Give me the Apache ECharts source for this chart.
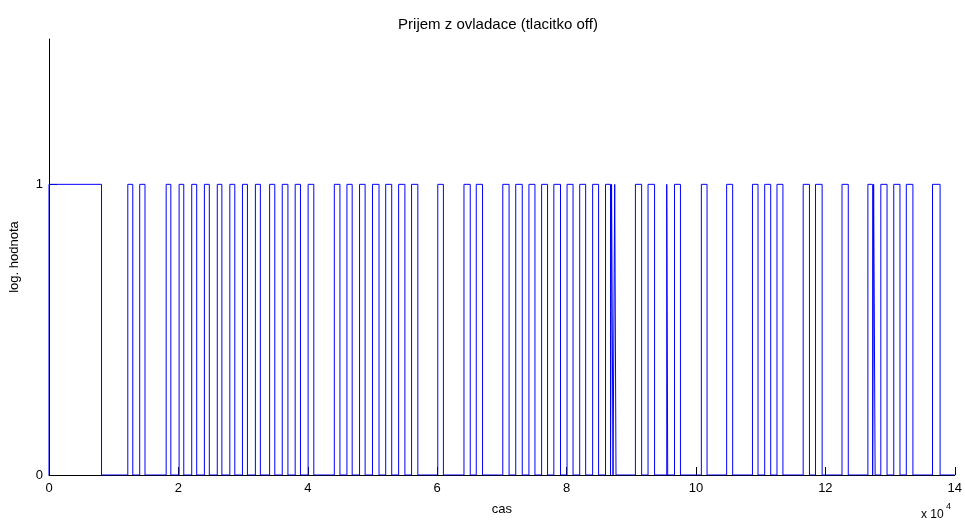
<!DOCTYPE html>
<html>
<head>
<meta charset="utf-8">
<script src="https://cdn.jsdelivr.net/npm/echarts@6/dist/echarts.min.js"></script>
<style>
  html, body { margin: 0; padding: 0; background: #fff; }
  #chart { width: 965px; height: 522px; }
</style>
</head>
<body>
<div id="chart"></div>
<script>
// pulse edges of the received signal (sample index)
var riseTimes = [0, 12180, 14020, 18110, 20110, 22060, 24020, 26010, 27950, 29900, 31900,
  34100, 36050, 38050, 40050, 44100, 46050, 48000, 50000, 52040, 54040, 56040,
  60090, 64140, 66040, 70140, 72140, 74180, 76140, 78030, 80070, 82030, 84030,
  86020, 86950, 87440, 90640, 92590, 95480, 96680, 100830, 104740, 108730,
  110620, 112520, 116570, 118470, 122570, 126570, 127460, 128570, 130570,
  132510, 136560];
var fallTimes = [8120, 12950, 14840, 18830, 20830, 22830, 24780, 26720, 28720, 30670, 32670,
  34900, 36930, 38870, 40930, 44970, 46860, 48860, 51010, 52970, 55010, 57010,
  60960, 65110, 67010, 71110, 73150, 75110, 77060, 79060, 81000, 82950, 84950,
  86790, 87180, 87640, 91600, 93600, 95630, 97600, 101710, 105670, 109590,
  111550, 113440, 117540, 119500, 123540, 127310, 127690, 129530, 131530,
  133530, 137730];
var xEnd = 140000;
var xTicks = [0, 2, 4, 6, 8, 10, 12, 14];   // x 10^4
var yTicks = [0, 1];

var signal = [];
for (var i = 0; i < riseTimes.length; i++) {
  signal.push([riseTimes[i], 0], [riseTimes[i], 1], [fallTimes[i], 1], [fallTimes[i], 0]);
}
signal.push([xEnd, 0]);

var font = '"Liberation Sans", Arial, sans-serif';
var chart = echarts.init(document.getElementById('chart'), null, { renderer: 'canvas' });
chart.setOption({
  animation: false,
  backgroundColor: '#fff',
  title: {
    text: 'Prijem z ovladace (tlacitko off)',
    left: 493,
    top: 12,
    textAlign: 'center',
    textStyle: { fontFamily: font, fontSize: 15, fontWeight: 'normal', color: '#000' }
  },
  grid: { left: 45, right: 8, top: 39, bottom: 47 },
  xAxis: {
    type: 'value',
    min: 0,
    max: xEnd,
    interval: 20000,
    name: 'cas',
    nameLocation: 'middle',
    nameGap: 28,
    nameTextStyle: { fontFamily: font, fontSize: 13, color: '#000' },
    axisLine: { lineStyle: { color: '#000', width: 1 } },
    axisTick: { inside: true, length: 8, lineStyle: { color: '#000' },
      customValues: xTicks.map(function (v) { return v * 10000; }) },
    axisLabel: { fontFamily: font, fontSize: 13, color: '#000', margin: 7,
      customValues: xTicks.map(function (v) { return v * 10000; }),
      formatter: function (v) { return String(v / 10000); } },
    splitLine: { show: false }
  },
  yAxis: {
    type: 'value',
    min: 0,
    max: 1.5,
    interval: 1,
    name: 'log. hodnota',
    nameLocation: 'middle',
    nameRotate: 90,
    nameGap: 28,
    nameTextStyle: { fontFamily: font, fontSize: 13, color: '#000' },
    axisLine: { lineStyle: { color: '#000', width: 1 } },
    axisTick: { inside: true, length: 8, lineStyle: { color: '#000' }, customValues: yTicks },
    axisLabel: { fontFamily: font, fontSize: 13, color: '#000', margin: 6, customValues: yTicks },
    splitLine: { show: false }
  },
  graphic: [
    { type: 'text', x: 921, y: 509, style: { text: 'x 10', font: '12px ' + font, fill: '#000' } },
    { type: 'text', x: 946, y: 502, style: { text: '4', font: '9px ' + font, fill: '#000' } }
  ],
  series: [{
    type: 'line',
    data: signal,
    showSymbol: false,
    lineStyle: { color: '#0000ff', width: 1 },
    z: 3
  }]
});
</script>
</body>
</html>
